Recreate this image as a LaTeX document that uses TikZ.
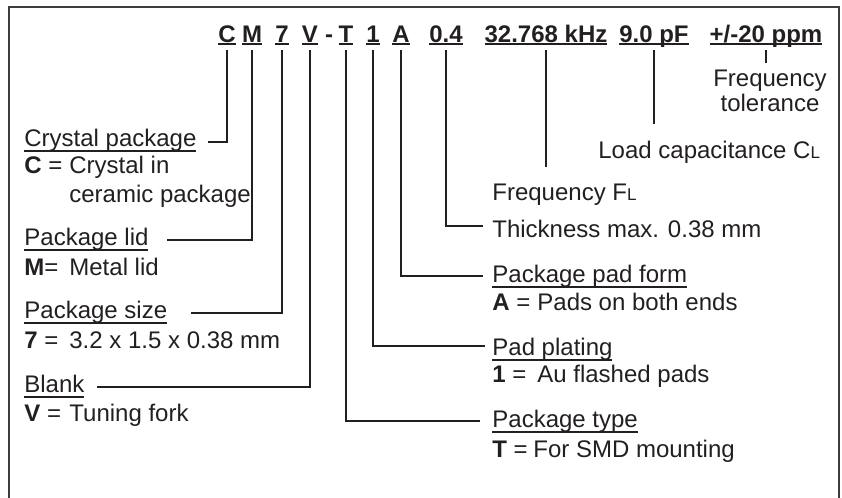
\documentclass[tikz,border=0pt]{standalone}
\usepackage{fontspec}
\setmainfont{Liberation Sans}
\definecolor{txtcol}{HTML}{231F20}
\definecolor{framecol}{HTML}{3C3C3C}
\newsavebox{\ulbox}
% underline at a fixed depth below the baseline
\newcommand{\ulin}[2]{\sbox{\ulbox}{#2}\rlap{\rule[-#1]{\wd\ulbox}{1pt}}\usebox{\ulbox}}
\newcommand{\topul}[1]{\ulin{1.75pt}{#1}}
\newcommand{\lblul}[1]{\ulin{3pt}{#1}}
\newcommand{\subL}{\raisebox{-0.4pt}{\fontsize{8.5}{9}\selectfont L}}
\tikzset{
  toplbl/.style={anchor=base, inner sep=0pt, text depth=0pt, text=txtcol, font=\fontsize{12}{14}\selectfont\bfseries},
  lbl/.style={anchor=base west, inner sep=0pt, text=txtcol},
  lead/.style={draw=txtcol, line width=1.25pt, shorten <=4pt}
}
\begin{document}
\begin{tikzpicture}[x=0.5pt, y=-0.5pt, font=\fontsize{12}{14}\selectfont]
            \useasboundingbox (0,0) rectangle (842,498);
            \draw[framecol, line width=1pt] (9,502) -- (9,7) -- (839,7) -- (839,502);
            % code line
            \node[toplbl] (nC) at (227,42) {\topul{C}};
            \node[toplbl] (nM) at (252,42) {\topul{M}};
            \node[toplbl] (n7) at (282,42) {\topul{7}};
            \node[toplbl] (nV) at (310,42) {\topul{V}};
            \node[toplbl] (nDash) at (329,42) {-};
            \node[toplbl] (nT) at (346,42) {\topul{T}};
            \node[toplbl] (n1) at (373,42) {\topul{1}};
            \node[toplbl] (nA) at (401,42) {\topul{A}};
            \node[toplbl] (n04) at (446,42) {\topul{0.4}};
            \node[toplbl] (nkHz) at (546,42) {\topul{32.768 kHz}};
            \node[toplbl] (npF) at (654,42) {\topul{9.0 pF}};
            \node[toplbl] (nppm) at (766,42) {\topul{+/-20 ppm}};
            % left side
            \node[lbl] (lCrys) at (24,146) {\lblul{Crystal package}};
            \node[lbl] (cC) at (24,173) {\textbf{C} =};
            \node[lbl] (dC1) at (69,173) {Crystal in};
            \node[lbl] (dC2) at (69,202) {ceramic package};
            \node[lbl] (lLid) at (24,245) {\lblul{Package lid}};
            \node[lbl] (cM) at (24,275) {\textbf{M}=};
            \node[lbl] (dM) at (69,275) {Metal lid};
            \node[lbl] (lSize) at (24,318) {\lblul{Package size}};
            \node[lbl] (c7) at (24,348) {\textbf{7} =};
            \node[lbl] (d7) at (69,348) {3.2 x 1.5 x 0.38 mm};
            \node[lbl] (lBlank) at (24,392) {\lblul{Blank}};
            \node[lbl] (cV) at (24,421) {\textbf{V} =};
            \node[lbl] (dV) at (69,421) {Tuning fork};
            % right side
            \node[lbl, anchor=base] (lTol) at (770,86) {Frequency};
            \node[lbl, anchor=base] (lTol2) at (770,112) {tolerance};
            \node[lbl] (lLoad) at (598,158) {Load capacitance C\subL};
            \node[lbl] (lFreq) at (492,200) {Frequency F\subL};
            \node[lbl] (lThick) at (492,237) {Thickness max. 0.38 mm};
            \node[lbl] (lPad) at (492,282) {\lblul{Package pad form}};
            \node[lbl] (cA) at (492,310) {\textbf{A} =};
            \node[lbl] (dA) at (537,310) {Pads on both ends};
            \node[lbl] (lPlat) at (492,355) {\lblul{Pad plating}};
            \node[lbl] (c1) at (492,382) {\textbf{1} =};
            \node[lbl] (d1) at (537,382) {Au flashed pads};
            \node[lbl] (lType) at (492,427) {\lblul{Package type}};
            \node[lbl] (cT) at (492,457) {\textbf{T} =};
            \node[lbl] (dT) at (533,457) {For SMD mounting};
            % line ends
            \coordinate (eCrys) at (208,142);
            \coordinate (eLid) at (167,240);
            \coordinate (eSize) at (191,313);
            \coordinate (eBlank) at (97,387);
            \coordinate (eType) at (480,421);
            \coordinate (ePlat) at (485,346);
            \coordinate (ePad) at (483,276);
            \coordinate (eThick) at (483,226);
            % leaders
            \draw[lead] (nC.south) |- (eCrys);
            \draw[lead] (nM.south) |- (eLid);
            \draw[lead] (n7.south) |- (eSize);
            \draw[lead] (nV.south) |- (eBlank);
            \draw[lead] (nT.south) |- (eType);
            \draw[lead] (n1.south) |- (ePlat);
            \draw[lead] (nA.south) |- (ePad);
            \draw[lead] (n04.south) |- (eThick);
            \draw[lead, shorten >=8pt] (nkHz.south) -- (nkHz.south |- lFreq.north);
            \draw[lead, shorten >=8pt] (npF.south) -- (npF.south |- lLoad.north);
            \draw[lead, shorten >=3pt] (nppm.south) -- (nppm.south |- lTol.north);
        \end{tikzpicture}
\end{document}
